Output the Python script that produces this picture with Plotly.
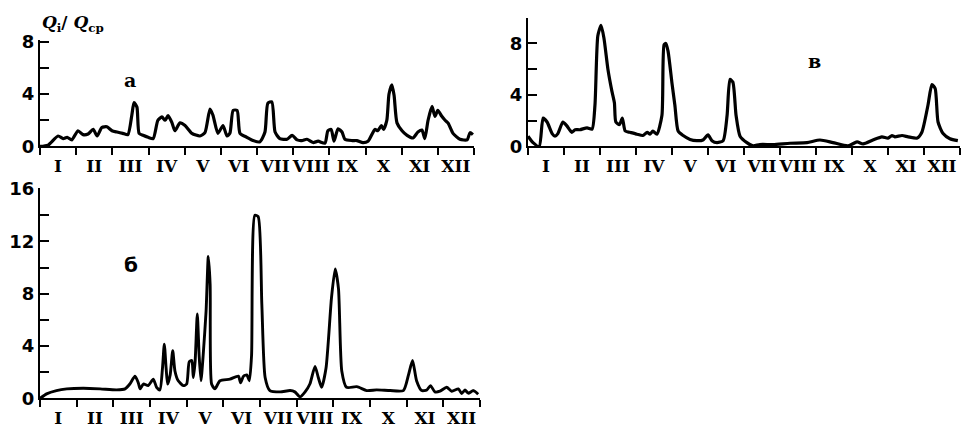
import plotly.graph_objects as go

# ---------------- data (x in months from 1 Jan, y = Qi/Qcp) ----------------
months_labels = ["I", "II", "III", "IV", "V", "VI", "VII", "VIII", "IX", "X", "XI", "XII"]

a_month = [0.00, 0.22, 0.50, 0.64, 0.75, 0.88, 1.05, 1.19, 1.33, 1.47,
           1.58, 1.71, 1.85, 1.99, 2.13, 2.29, 2.43, 2.54, 2.60, 2.68,
           2.74, 2.85, 2.99, 3.13, 3.26, 3.37, 3.46, 3.54, 3.65, 3.73,
           3.87, 4.01, 4.20, 4.42, 4.56, 4.70, 4.78, 4.92, 5.06, 5.17,
           5.25, 5.34, 5.45, 5.53, 5.72, 5.89, 6.08, 6.22, 6.30, 6.41,
           6.50, 6.63, 6.83, 6.97, 7.11, 7.24, 7.38, 7.55, 7.69, 7.88,
           7.96, 8.05, 8.13, 8.24, 8.35, 8.43, 8.63, 8.76, 8.93, 9.07,
           9.26, 9.34, 9.44, 9.50, 9.59, 9.65, 9.73, 9.79, 9.87, 10.01,
           10.15, 10.31, 10.45, 10.56, 10.64, 10.73, 10.84, 10.92, 11.00, 11.11,
           11.20, 11.28, 11.42, 11.61, 11.81, 11.89, 11.97]
a_q = [0, 0.1, 0.8, 0.6, 0.7, 0.5, 1.2, 0.9, 0.95, 1.3,
       0.8, 1.45, 1.5, 1.2, 1.1, 1.0, 0.9, 2.4, 3.35, 3.0,
       1.0, 0.85, 0.7, 0.6, 2.0, 2.25, 2.0, 2.35, 1.8, 1.2,
       1.8, 1.6, 1.0, 0.8, 1.05, 2.85, 2.4, 1.0, 1.6, 0.8,
       1.0, 2.75, 2.75, 1.0, 0.7, 0.45, 0.35, 1.1, 3.3, 3.4,
       1.1, 0.6, 0.55, 0.85, 0.5, 0.45, 0.55, 0.3, 0.4, 0.25,
       1.2, 1.3, 0.4, 1.35, 1.1, 0.55, 0.45, 0.45, 0.3, 0.4,
       1.3, 1.2, 1.6, 1.3, 2.0, 4.0, 4.7, 3.9, 1.8, 1.2,
       0.85, 0.65, 1.1, 1.25, 0.6, 2.0, 3.05, 2.3, 2.75, 2.3,
       2.0, 1.8, 1.0, 0.55, 0.5, 1.05, 0.9]

v_month = [0.00, 0.14, 0.31, 0.42, 0.53, 0.67, 0.75, 0.83, 0.97, 1.08,
           1.22, 1.31, 1.44, 1.64, 1.78, 1.86, 1.94, 2.03, 2.11, 2.22,
           2.33, 2.40, 2.44, 2.54, 2.62, 2.70, 2.83, 3.03, 3.19, 3.31,
           3.39, 3.47, 3.58, 3.72, 3.78, 3.83, 3.89, 4.00, 4.08, 4.17,
           4.31, 4.50, 4.69, 4.86, 5.00, 5.11, 5.25, 5.42, 5.53, 5.61,
           5.69, 5.78, 5.89, 6.08, 6.25, 6.44, 6.81, 7.28, 7.75, 8.11,
           8.47, 8.89, 9.14, 9.31, 9.58, 9.83, 10.00, 10.11, 10.19, 10.39,
           10.56, 10.81, 10.94, 11.11, 11.22, 11.31, 11.39, 11.53, 11.72, 11.94]
v_q = [0.8, 0.3, 0.0, 2.2, 1.9, 1.0, 0.8, 1.0, 1.9, 1.6,
       1.1, 1.3, 1.3, 1.45, 1.35, 3.2, 8.6, 9.4, 8.4, 6.0,
       4.3, 3.4, 1.9, 1.7, 2.2, 1.2, 1.1, 0.95, 0.85, 1.1,
       0.95, 1.2, 0.95, 2.4, 7.9, 8.0, 7.4, 4.9, 3.2, 1.2,
       0.85, 0.55, 0.45, 0.5, 0.9, 0.45, 0.3, 0.45, 2.4, 5.2,
       5.0, 2.4, 0.8, 0.3, 0.05, 0.15, 0.15, 0.25, 0.3, 0.5,
       0.3, 0.05, 0.35, 0.2, 0.5, 0.75, 0.65, 0.85, 0.75, 0.85,
       0.75, 0.65, 1.1, 3.2, 4.8, 4.5, 1.9, 1.0, 0.6, 0.45]

b_month = [0.00, 0.18, 0.45, 0.73, 1.18, 1.64, 2.09, 2.32, 2.45, 2.59,
           2.68, 2.73, 2.82, 2.95, 3.09, 3.18, 3.27, 3.34, 3.39, 3.44,
           3.48, 3.55, 3.62, 3.68, 3.77, 3.91, 4.00, 4.07, 4.14, 4.18,
           4.23, 4.29, 4.34, 4.39, 4.45, 4.53, 4.59, 4.64, 4.68, 4.77,
           4.91, 5.18, 5.41, 5.47, 5.55, 5.64, 5.71, 5.77, 5.86, 5.95,
           6.05, 6.14, 6.27, 6.55, 6.82, 6.95, 7.09, 7.23, 7.36, 7.50,
           7.59, 7.68, 7.80, 7.95, 8.05, 8.14, 8.23, 8.36, 8.64, 8.91,
           9.18, 9.55, 9.91, 10.05, 10.16, 10.27, 10.41, 10.55, 10.65, 10.77,
           10.91, 11.09, 11.23, 11.41, 11.50, 11.59, 11.68, 11.82, 11.95]
b_q = [0, 0.35, 0.6, 0.73, 0.78, 0.73, 0.65, 0.73, 1.1, 1.7,
       1.2, 0.73, 1.1, 0.98, 1.47, 0.85, 0.65, 2.3, 4.15, 2.3,
       1.1, 1.8, 3.65, 2.1, 1.35, 0.98, 1.1, 2.8, 2.9, 1.6,
       2.8, 6.45, 3.3, 1.35, 3.3, 6.7, 10.85, 8.7, 1.1, 0.73,
       1.35, 1.47, 1.7, 1.2, 1.7, 1.8, 1.35, 3.3, 14.0, 13.9,
       7.2, 1.6, 0.6, 0.5, 0.6, 0.5, 0.12, 0.5, 1.1, 2.45,
       1.6, 0.85, 2.3, 7.7, 9.9, 8.4, 2.1, 0.85, 0.9, 0.6,
       0.65, 0.6, 0.6, 1.8, 2.9, 1.35, 0.6, 0.65, 0.98, 0.5,
       0.55, 0.85, 0.55, 0.73, 0.37, 0.65, 0.4, 0.6, 0.32]

W, H = 964, 438
BLACK = "black"
NUM_FONT = dict(family="DejaVu Sans", size=18, color=BLACK, weight="bold")
ROM_FONT = dict(family="DejaVu Serif", size=17, color=BLACK, weight="bold")

fig = go.Figure()
line = dict(color=BLACK, width=3.2, shape="spline", smoothing=0.6)
fig.add_trace(go.Scatter(x=a_month, y=a_q, mode="lines", line=line, xaxis="x", yaxis="y", showlegend=False))
fig.add_trace(go.Scatter(x=v_month, y=v_q, mode="lines", line=line, xaxis="x2", yaxis="y2", showlegend=False))
fig.add_trace(go.Scatter(x=b_month, y=b_q, mode="lines", line=dict(line, width=2.9), xaxis="x3", yaxis="y3", showlegend=False))


def xax(px0, px1, anchor):
    return dict(domain=[px0 / W, px1 / W], range=[0, 12], anchor=anchor,
                tickmode="array", tickvals=[i + 0.5 for i in range(12)],
                ticktext=months_labels, tickangle=0,
                ticks="", tickfont=ROM_FONT, ticklabelstandoff=3,
                showline=True, linecolor=BLACK, linewidth=2,
                showgrid=False, zeroline=False, fixedrange=True,
                minor=dict(tickmode="array", tickvals=list(range(13)), ticks="outside",
                           ticklen=7, tickwidth=2, tickcolor=BLACK, showgrid=False))


def yax(py_bottom, py_top, rng, major, minor, anchor):
    return dict(domain=[1 - py_bottom / H, 1 - py_top / H], range=rng, anchor=anchor,
                tickmode="array", tickvals=major, ticktext=["%g" % v for v in major],
                ticks="inside", ticklen=9, tickwidth=2,
                tickcolor=BLACK, tickfont=NUM_FONT, showline=True, linecolor=BLACK, linewidth=2,
                showgrid=False, zeroline=False, fixedrange=True,
                minor=dict(tickmode="array", tickvals=minor, ticks="inside", ticklen=9,
                           tickwidth=2, tickcolor=BLACK, showgrid=False))


fig.update_layout(
    width=W, height=H, margin=dict(l=0, r=0, t=0, b=0),
    paper_bgcolor="white", plot_bgcolor="white",
    xaxis=xax(40, 474, "y"),
    yaxis=yax(143, 31, [0, 8.15], [0, 4, 8], [2, 6], "x"),
    xaxis2=xax(528, 960, "y2"),
    yaxis2=yax(143, 8, [0, 10], [0, 4, 8], [2, 6, 10], "x2"),
    xaxis3=xax(40, 480, "y3"),
    yaxis3=yax(407, 187, [0, 16.05], [0, 4, 8, 12, 16], [2, 6, 10, 14], "x3"),
)

ann_font = dict(family="DejaVu Serif", size=19, color=BLACK, weight="bold")
fig.add_annotation(x=40 / W, y=1 - 14 / H, xref="paper", yref="paper", xanchor="left", yanchor="middle",
                   text="<i>Q</i><sub>i</sub>/ <i>Q</i><sub>ср</sub>", showarrow=False,
                   font=dict(family="DejaVu Serif", size=17, color=BLACK, weight="bold"))
fig.add_annotation(x=122 / W, y=1 - 60 / H, xref="paper", yref="paper", text="а", showarrow=False, font=ann_font)
fig.add_annotation(x=823 / W, y=1 - 40 / H, xref="paper", yref="paper", text="в", showarrow=False, font=ann_font)
fig.add_annotation(x=122 / W, y=1 - 267 / H, xref="paper", yref="paper", text="б", showarrow=False,
                   font=dict(family="DejaVu Sans", size=20, color=BLACK, weight="bold"))

fig.write_html("out.html")
